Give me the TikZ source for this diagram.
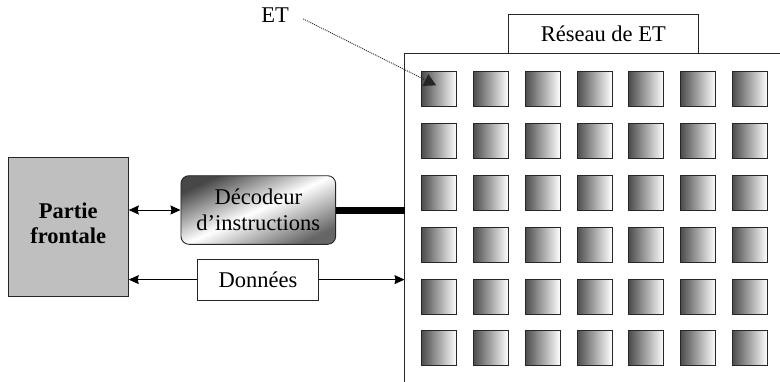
\documentclass[tikz,border=0pt]{standalone}
\usepackage{fontspec}
\setmainfont{Liberation Serif}
\usetikzlibrary{arrows.meta,calc}
\tikzset{mytip/.tip={Stealth[length=10pt,width=9pt,inset=1pt]}}
\begin{document}
\begin{tikzpicture}[x=1pt,y=-1pt,
  txt/.style={font=\fontsize{22.5}{26}\selectfont, text=black},
  box/.style={draw=black!85, line width=0.9pt, inner sep=0pt},
  pe/.style={box, minimum width=35pt, minimum height=35pt, left color=black!70, right color=white},
  conn/.style={line width=0.9pt, black}
]
\useasboundingbox (0,0) rectangle (780,381);

% Array of processing elements
\coordinate (nw) at (404.5,53.5);
\draw[line width=0.9pt, black!85] (nw |- 0,385) -- (nw) -- (785,53.5);
\node[box, fill=white, minimum width=190pt, minimum height=39.2pt, txt] (title) at (603.3,33.9) {Réseau de ET};
\foreach \i in {0,...,6}
  \foreach \j in {0,...,5}
    \node[pe] (s-\j-\i) at ({439.1+51.8*\i},{89.3+51.8*\j}) {};

% Front end
\node[box, fill=black!25, minimum width=120pt, minimum height=139.4pt, align=center,
      font=\fontsize{22.5}{25}\selectfont\bfseries] (front) at (68.3,227) {\raisebox{8pt}{Partie}\\\raisebox{8pt}{frontale}};

% Instruction decoder
\node[box, rounded corners=8pt, minimum width=154.7pt, minimum height=68.6pt, align=center, txt,
      top color=black!72, bottom color=black!60, middle color=white, shading angle=25] (dec) at (258.3,210) {Décodeur\\d'instructions};

% Data
\node[box, fill=white, minimum width=120.6pt, minimum height=40.7pt, txt] (don) at (258,279.6) {Données};

% Connectors
\draw[conn, mytip-mytip] (front.east |- dec.west) -- (dec.west);
\draw[line width=7pt] (dec.east) -- (dec.east -| nw);
\draw[conn, -mytip] (don.west) -- (front.east |- don.west);
\draw[conn, -mytip] (don.east) -- (don.east -| nw);

% ET label
\node[txt] (et) at (275,15) {ET};
\draw[black!85, line width=0.9pt, dash pattern=on 1pt off 1pt, -{Triangle[length=12pt,width=13pt]}]
  ($(et.east)+(11,4)$) -- ($(s-0-0.north west)+(15,14)$);
\end{tikzpicture}
\end{document}
